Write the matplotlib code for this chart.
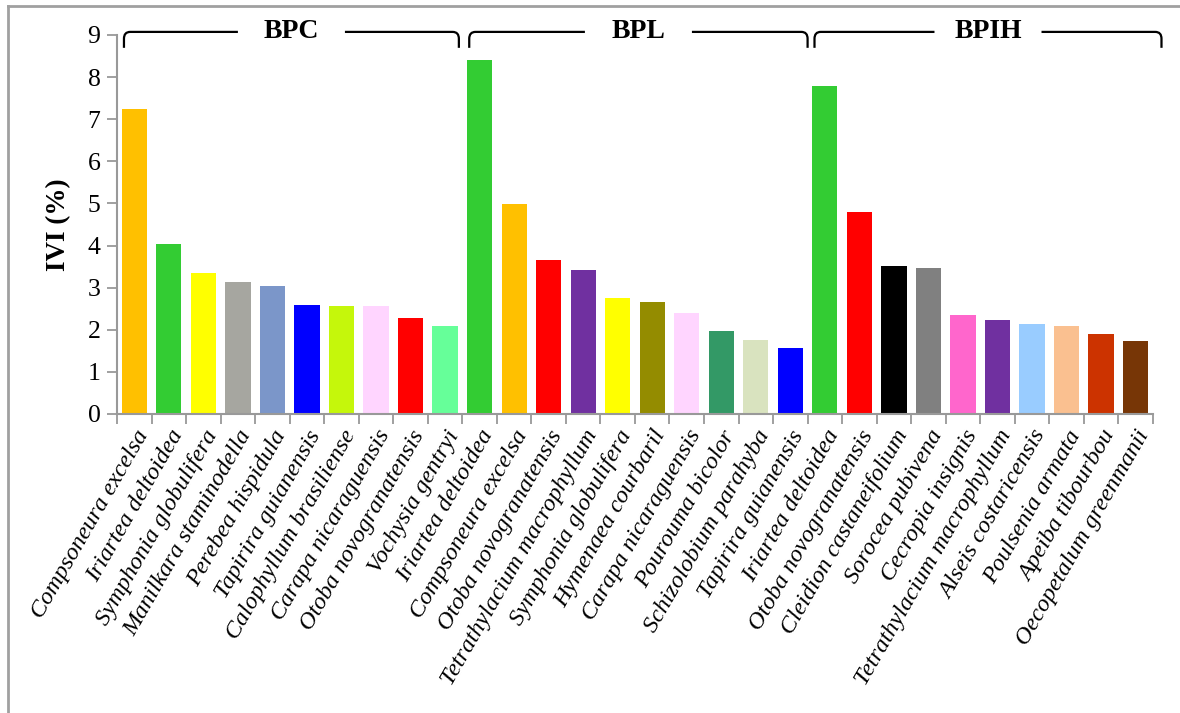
import numpy as np
import matplotlib.pyplot as plt
from matplotlib.lines import Line2D
from matplotlib.path import Path
from matplotlib.patches import PathPatch
import matplotlib.transforms as mtransforms

plt.rcParams['font.family'] = ['Liberation Serif', 'DejaVu Serif']

# Data
groups = ['BPC', 'BPL', 'BPIH']

bpc_species = ['Compsoneura excelsa', 'Iriartea deltoidea', 'Symphonia globulifera',
               'Manilkara staminodella', 'Perebea hispidula', 'Tapirira guianensis',
               'Calophyllum brasiliense', 'Carapa nicaraguensis', 'Otoba novogranatensis',
               'Vochysia gentryi']
bpc_ivi = [7.25, 4.04, 3.35, 3.14, 3.04, 2.59, 2.57, 2.57, 2.28, 2.09]
bpc_colors = ['#FFC000', '#33CC33', '#FFFF00', '#A6A6A0', '#7B96C9', '#0000FF',
              '#C5F70B', '#FFD5FF', '#FF0000', '#66FF99']

bpl_species = ['Iriartea deltoidea', 'Compsoneura excelsa', 'Otoba novogranatensis',
               'Tetrathylacium macrophyllum', 'Symphonia globulifera', 'Hymenaea courbaril',
               'Carapa nicaraguensis', 'Pourouma bicolor', 'Schizolobium parahyba',
               'Tapirira guianensis']
bpl_ivi = [8.41, 4.99, 3.66, 3.42, 2.76, 2.66, 2.40, 1.97, 1.76, 1.57]
bpl_colors = ['#33CC33', '#FFC000', '#FF0000', '#7030A0', '#FFFF00', '#948C00',
              '#FFD5FF', '#339966', '#D9E3BF', '#0000FF']

bpih_species = ['Iriartea deltoidea', 'Otoba novogranatensis', 'Cleidion castaneifolium',
                'Sorocea pubivena', 'Cecropia insignis', 'Tetrathylacium macrophyllum',
                'Alseis costaricensis', 'Poulsenia armata', 'Apeiba tibourbou',
                'Oecopetalum greenmanii']
bpih_ivi = [7.79, 4.80, 3.52, 3.47, 2.35, 2.23, 2.14, 2.09, 1.90, 1.73]
bpih_colors = ['#33CC33', '#FF0000', '#000000', '#808080', '#FF66CC', '#7030A0',
               '#99CCFF', '#FAC090', '#CC3300', '#773606']

species = bpc_species + bpl_species + bpih_species
ivi = bpc_ivi + bpl_ivi + bpih_ivi
colors = bpc_colors + bpl_colors + bpih_colors
group_sizes = [len(bpc_species), len(bpl_species), len(bpih_species)]

fig = plt.figure(figsize=(11.8, 7.13), dpi=100)
ax = fig.add_axes([0.0992, 0.4194, 0.8778, 0.5316])

x = np.arange(len(species))
ax.bar(x, ivi, width=0.73, color=colors)

ax.set_xlim(-0.5, len(species) - 0.5)
ax.set_ylim(0, 9)
ax.set_yticks(range(0, 10))
ax.tick_params(axis='y', labelsize=18.5, length=7, width=1.3, color='#999999', pad=5)
ax.set_xticks(x)
ax.set_xticklabels(species, rotation=60, ha='right', va='top', rotation_mode='anchor',
                   fontsize=17.5, style='italic')
ax.tick_params(axis='x', length=0, pad=9)
# tick marks between categories
ax.set_xticks(np.arange(-0.5, len(species)), minor=True)
ax.tick_params(axis='x', which='minor', length=7, width=1.3, color='#999999')

for side in ['top', 'right']:
    ax.spines[side].set_visible(False)
for side in ['left', 'bottom']:
    ax.spines[side].set_color('#999999')
    ax.spines[side].set_linewidth(1.5)

ax.set_ylabel('IVI (%)', fontsize=19.5, fontweight='bold', labelpad=12)

# group brackets above the bars
trans = mtransforms.blended_transform_factory(ax.transData, ax.transAxes)
y_top, y_bot = 1.008, 0.966
rx, ry = 0.18, 0.018
start = 0
for name, n, shift in zip(groups, group_sizes, [0.0, 0.1, 0.35]):
    x0 = start - 0.3
    x1 = start + n - 0.6 + shift
    xc = (x0 + x1) / 2
    gap = 1.55
    left = Path([(x0, y_bot), (x0, y_top - ry), (x0, y_top), (x0 + rx, y_top), (xc - gap, y_top)],
                [Path.MOVETO, Path.LINETO, Path.CURVE3, Path.CURVE3, Path.LINETO])
    right = Path([(xc + gap, y_top), (x1 - rx, y_top), (x1, y_top), (x1, y_top - ry), (x1, y_bot)],
                 [Path.MOVETO, Path.LINETO, Path.CURVE3, Path.CURVE3, Path.LINETO])
    for p in (left, right):
        ax.add_patch(PathPatch(p, transform=trans, fill=False, lw=1.6, color='black', clip_on=False))
    ax.text(xc, y_top, name, transform=trans, ha='center', va='center',
            fontsize=20, fontweight='bold')
    start += n

# grey frame lines at the left and top edges
fig.add_artist(Line2D([7.5 / 1180, 7.5 / 1180], [0, 1 - 6 / 713], color='#A0A0A0', lw=2))
fig.add_artist(Line2D([7.5 / 1180, 1], [1 - 6 / 713, 1 - 6 / 713], color='#A0A0A0', lw=2))

fig.savefig('out.png', dpi=100)
